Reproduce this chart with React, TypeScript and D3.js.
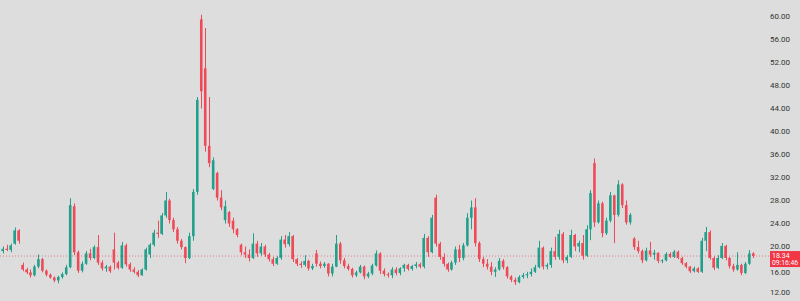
import React from "react";
import * as d3 from "d3";

const OPEN = [19.2,19.6,19.4,20.5,22.8,16.8,16,15.5,15,16.5,17.8,15.8,15.1,14.6,14.1,14.7,15.2,16.4,27,19,15.8,17,18.8,18,19.9,17.2,16.2,16.5,19.5,17.2,16.3,20.2,16.9,16,15.6,15,16,18.6,20.3,22.4,22.2,25.4,28,24.6,23,21,19.9,18,21.8,29.5,59.5,51,37.5,30,32.8,28.5,24.6,26,24.5,23,20.3,19,18.6,18,20.5,18.8,20,18.6,17.8,17,18,21.2,20.4,21.8,17.8,17,16.8,17.5,16.2,18.8,17,16.6,17,15.3,16.5,20.5,17.6,16.6,16.1,15,15.5,16.5,14.8,15.3,16.7,18.8,15.8,15.2,15,16,15.4,16.2,16.8,16.1,16.6,16.9,16.5,21.5,19,28.5,20.5,18.2,17,16,17.2,19.5,18,20.2,25,26.8,20.6,17.8,17,16.5,15.6,16,17.5,16.4,14.8,14.2,13.8,14.7,15,15.2,15.6,16.4,19.8,16.5,16.8,19.2,18.2,22.2,17.6,18.2,22,20,20.6,18.4,23,34.5,24.2,27.5,22.3,24.5,28.9,25.5,30.8,27.2,24.2,21.4,19.9,19.2,17.6,19.3,18.6,18.9,17.5,17.6,18.7,18.2,19.1,18,17.1,16.5,15.7,16.2,15.6,21,22.5,18,16.3,18,20.1,18,16.6,16,16.8,15.4,17,18.8];
const HIGH = [20,20.3,20.5,23.3,23,17.2,16.3,16,16.8,18.6,18,16,15.3,14.8,14.9,15.5,16.8,28.4,27.5,19.3,17.4,19.2,19.6,20.2,22,17.6,16.8,16.7,22.4,17.5,20.8,20.5,17.2,16.4,15.9,16.2,19.8,20.6,22.9,24.5,25.8,29.5,28.3,25,23.4,21.3,20,22.4,30,46,60.3,58,46,35.5,33,29.8,28,26.2,25,23.2,20.5,20,19.5,22.3,21,20.6,20.3,18.9,18.2,18.3,21.8,22,22.5,22,18,17.4,18.5,17.7,17,19.4,17.4,17.3,17.1,17,22,20.8,18,17,16.3,15.8,16.8,16.7,15.6,17,19.3,19,16.2,15.5,16.4,16.4,16.4,17,17,16.8,17.3,17.2,22.2,21.8,25.5,29,20.8,18.8,17.2,17.5,20,20.3,20.6,25.8,28,28.4,20.9,18.2,17.8,17.3,16.4,18,17.8,16.6,15,14.6,15,15.4,15.6,16.2,16.8,21,20,17.1,19.8,21.7,22.9,22.5,18.5,22.9,22.2,21,22,23.7,29.8,35.3,28,27.8,25,29.5,29,31.5,31,28,25.8,21.6,21,19.5,19.8,20.8,19.4,19,17.8,19,19,19.4,19.3,18.2,17.3,16.6,16.5,16.4,21.5,23.4,22.8,18.3,18.5,20.6,20.3,18.2,17,19,17,17.3,19.4,19];
const LOW = [18.8,19.2,19,20.3,20.5,15.7,15.2,14.6,14.8,16.2,15.5,14.8,14.4,13.8,13.6,14.4,15,16.2,18.5,15.4,15.5,16.8,17.6,17.8,16.8,15.8,15.6,15.4,16,16,16.1,16.5,15.6,15.3,14.7,14.9,15.8,18,20,21.5,22,25,24,22.5,20.5,19.5,17.1,17.8,21,29,44,36.5,33.8,29.8,28,26.3,24,23.4,22.3,21.6,18.5,18,17.4,17.8,18.2,18.4,18.2,17.4,16.6,16.8,17.7,19.8,20,17.3,16.6,16.3,16.5,15.8,15.9,16.5,16.2,16.3,14.8,14.8,16.4,17,16.2,15.8,14.6,14.7,15.3,14.3,14.5,15,16.5,15.2,14.8,14.6,14.5,15,15,15.6,15.8,15.8,16.2,16.2,16.2,18.2,18.8,20,17.7,16.5,15.6,15.8,16.8,17.3,17.6,20,23,20,17.3,16.4,16,15,14.7,15.8,16,14.4,13.8,13.3,13.6,14.4,14.5,14.8,15.4,16.2,16,16,16.3,17.7,17.7,17.1,17.1,18,19.2,19,17.7,18.2,21.1,23.4,24,21.6,22,24.2,20.6,25.2,26.7,23.8,23.8,19.4,18.8,17.1,17.4,18.2,17.7,17.1,17.1,17.4,18,18,17.8,16.8,16.2,15.4,15.5,15.4,15.4,19.2,17.7,15.9,16.1,17.8,17.6,16.2,15.6,15.8,15,15.2,16.8,18];
const CLOSE = [19.6,19.4,20.2,22.8,21,16,15.5,15,16.5,17.8,15.8,15.1,14.6,14.1,14.7,15.2,16.4,27.2,19,15.8,17,18.8,18,19.9,17.2,16.2,16.5,15.7,17.2,16.3,20.2,16.9,16,15.6,15,16,19.5,20.3,22.4,22.2,25.4,28,24.6,23,21,19.9,18,21.8,29.5,45.5,47,37.5,34.5,35,28.5,26.8,27,24,23,22,19,18.6,18,20.5,18.8,20,18.6,17.8,17,18,21.2,20.4,21.8,17.8,17,16.8,17.5,16.2,16.6,17,16.6,17,15.3,16.5,20.5,17.6,16.6,16.1,15,15.5,16.5,14.8,15.3,16.7,18.8,15.8,15.2,15,16,15.4,16.2,16.8,16.1,16.6,16.9,16.5,21.5,19,25,20.5,18.2,17,16,17.2,19.5,18,20.2,25,26.8,20.6,17.8,17,16.5,15.6,16,17.5,16.4,14.8,14.2,13.8,14.7,15,15.2,15.6,16.4,19.8,16.5,16.8,19.2,18.2,22.2,17.6,18.2,22,20,20.6,18.4,23,29.3,24.2,27.5,22.3,24.5,28.9,25.5,30.8,27.2,24.2,25.5,19.9,19.2,17.6,19.3,18.6,18.9,17.5,17.6,18.7,18.2,19.1,18,17.1,16.5,15.7,16.2,15.6,21,22.5,18,16.3,18,20.1,18,16.6,16,16.8,15.4,17,18.8,18.34];
const TICKS = [12,16,20,24,28,32,36,40,44,48,52,56,60];
const LAST_PRICE = "18.34";
const COUNTDOWN = "09:16:46";

const W = 800, H = 301;
const UP = "#089981", DOWN = "#f23645";

export default function App() {
  const n = CLOSE.length;
  const x = d3.scaleBand<number>().domain(d3.range(n)).range([0, 756]).padding(0.35);
  const y = d3.scaleLinear().domain([12, 60]).range([292.5, 16.5]);
  const last = CLOSE[n - 1];
  const ly = y(last);
  const font = "Roboto, 'Liberation Sans', sans-serif";
  return (
    <svg width={W} height={H} style={{ position: "absolute", left: 0, top: 0, display: "block" }}>
      <rect x={0} y={0} width={W} height={H} fill="#dddddd" />
      <line x1={0} x2={770} y1={ly} y2={ly} stroke="#f23645" strokeOpacity={0.6} strokeWidth={1} strokeDasharray="1,2" />
      {CLOSE.map((c, i) => {
        const o = OPEN[i];
        const up = c >= o;
        const col = up ? UP : DOWN;
        const bx = x(i) as number;
        const bw = x.bandwidth();
        const cx = Math.round(bx + bw / 2) + 0.5;
        const top = y(Math.max(o, c));
        const bot = y(Math.min(o, c));
        return (
          <g key={i} opacity={0.88}>
            <line x1={cx} x2={cx} y1={y(HIGH[i])} y2={y(LOW[i])} stroke={col} strokeWidth={1} />
            <rect x={bx} y={top} width={bw} height={Math.max(1, bot - top)} fill={col} />
          </g>
        );
      })}
      {TICKS.filter((t) => t !== 16).map((t) => (
        <text key={t} x={790} y={y(t)} dy="0.35em" textAnchor="end" fontSize={8} fill="#333" fontFamily={font}>
          {t.toFixed(2)}
        </text>
      ))}
      <text x={790} y={y(16) + 3} dy="0.35em" textAnchor="end" fontSize={8} fill="#333" fontFamily={font}>
        {(16).toFixed(2)}
      </text>
      <rect x={770} y={ly - 5} width={30} height={16} fill="#f23645" />
      <text x={772} y={ly} dy="0.35em" fontSize={7} fill="#fff" fontFamily={font}>{LAST_PRICE}</text>
      <text x={772} y={ly + 7} dy="0.35em" fontSize={6.5} fill="#fff" fontFamily={font} textLength={26} lengthAdjust="spacingAndGlyphs">{COUNTDOWN}</text>
    </svg>
  );
}
